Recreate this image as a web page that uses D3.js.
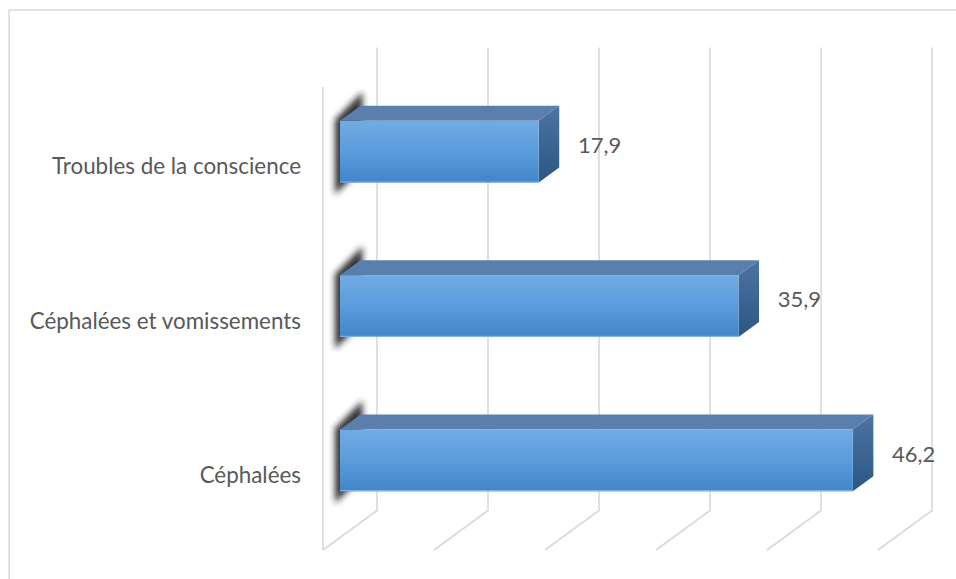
<!DOCTYPE html>
<html>
<head>
<meta charset="utf-8">
<script src="https://cdn.jsdelivr.net/npm/d3@7"></script>
<style>
  html, body { margin: 0; padding: 0; background: #fff; }
  svg { display: block; }
  text { font-family: Lato, "Noto Sans", sans-serif; fill: #595959; }
</style>
</head>
<body>
<svg id="chart" width="956" height="579"></svg>
<script>
// Symptom categories, top to bottom, and their percentages
const categories = ["Troubles de la conscience", "Céphalées et vomissements", "Céphalées"];
const values = [17.9, 35.9, 46.2];
const valueLabels = ["17,9", "35,9", "46,2"];
const axisTicks = [0, 10, 20, 30, 40, 50];

const W = 956, H = 579;
const svg = d3.select("#chart");

// Front plane of the 3D plot box and the depth vector toward the back wall
const front = { left: 323, right: 878, top: 87, bottom: 550 };
const depth = { dx: 54, dy: -39.5 };
const barDepthStart = 0.315, barDepthSize = 0.38;

const x = d3.scaleLinear().domain([0, 50]).range([front.left, front.right]);
const y = d3.scaleBand().domain(categories).range([front.top, front.bottom])
  .paddingInner(0.6).paddingOuter(0.3);

const defs = svg.append("defs");
const gFront = defs.append("linearGradient").attr("id", "gFront")
  .attr("x1", 0).attr("y1", 0).attr("x2", 0).attr("y2", 1);
gFront.append("stop").attr("offset", "0%").attr("stop-color", "#72abe3");
gFront.append("stop").attr("offset", "50%").attr("stop-color", "#5a9cdd");
gFront.append("stop").attr("offset", "100%").attr("stop-color", "#4285c8");
const gSide = defs.append("linearGradient").attr("id", "gSide")
  .attr("x1", 0).attr("y1", 0).attr("x2", 0).attr("y2", 1);
gSide.append("stop").attr("offset", "0%").attr("stop-color", "#4d74a2");
gSide.append("stop").attr("offset", "100%").attr("stop-color", "#2c5783");
defs.append("filter").attr("id", "soft").attr("x", "-50%").attr("y", "-50%")
  .attr("width", "200%").attr("height", "200%")
  .append("feGaussianBlur").attr("stdDeviation", 3);

// Outer chart frame
svg.append("rect").attr("x", 9).attr("y", 10).attr("width", W).attr("height", H)
  .attr("fill", "none").attr("stroke", "#d9d9d9").attr("stroke-width", 1.5);

// Gridlines: vertical on the back wall, diagonal across the floor
const grid = svg.append("g").attr("stroke", "#d9d9d9").attr("stroke-width", 1.6).attr("fill", "none");
axisTicks.forEach(t => {
  const bx = x(t) + depth.dx;
  grid.append("path").attr("d",
    `M${bx},${front.top + depth.dy}L${bx},${front.bottom + depth.dy}L${x(t)},${front.bottom}`);
});
// Front edge of the side wall
grid.append("line").attr("x1", x(0)).attr("x2", x(0))
  .attr("y1", front.top).attr("y2", front.bottom);

// Bars
const ox = depth.dx * barDepthStart, oy = depth.dy * barDepthStart;
const bdx = depth.dx * barDepthSize, bdy = depth.dy * barDepthSize;
const bw = y.bandwidth();

const bars = svg.append("g").selectAll("g").data(categories).join("g");
bars.each(function (c, i) {
  const g = d3.select(this);
  const x0 = x(0) + ox, x1 = x(values[i]) + ox;
  const y0 = y(c) + oy, y1 = y0 + bw;
  // soft shadow at the inner end of the bar
  g.append("path")
    .attr("d", `M${x0 - 5},${y0 - 1}L${x0 + bdx + 2},${y0 + bdy - 14}L${x0 + bdx + 2},${y1 + bdy}L${x0 - 5},${y1 + 12}Z`)
    .attr("fill", "#1e1e1e").attr("opacity", 0.9).attr("filter", "url(#soft)");
  // top face
  g.append("path")
    .attr("d", `M${x0},${y0}L${x0 + bdx},${y0 + bdy}L${x1 + bdx},${y0 + bdy}L${x1},${y0}Z`)
    .attr("fill", "#5a7fad");
  // end face
  g.append("path")
    .attr("d", `M${x1},${y0}L${x1 + bdx},${y0 + bdy}L${x1 + bdx},${y1 + bdy}L${x1},${y1}Z`)
    .attr("fill", "url(#gSide)");
  // front face
  g.append("rect").attr("x", x0).attr("y", y0).attr("width", x1 - x0).attr("height", bw)
    .attr("fill", "url(#gFront)");
  g.append("line").attr("x1", x0).attr("x2", x1).attr("y1", y1 - 0.6).attr("y2", y1 - 0.6)
    .attr("stroke", "#7fb2e6").attr("stroke-width", 1.2);
  // value label
  g.append("text")
    .attr("x", x1 + bdx / 2 + 29)
    .attr("y", y0 + bw / 2 + bdy / 2)
    .attr("dy", "0.4em")
    .attr("font-size", 22)
    .text(valueLabels[i]);
});

// Category labels aligned to the front plane
svg.append("g").selectAll("text").data(categories).join("text")
  .attr("x", front.left - 22)
  .attr("y", d => y(d) + bw / 2)
  .attr("dy", "0.45em")
  .attr("text-anchor", "end")
  .attr("font-size", 22.4)
  .text(d => d);
</script>
</body>
</html>
